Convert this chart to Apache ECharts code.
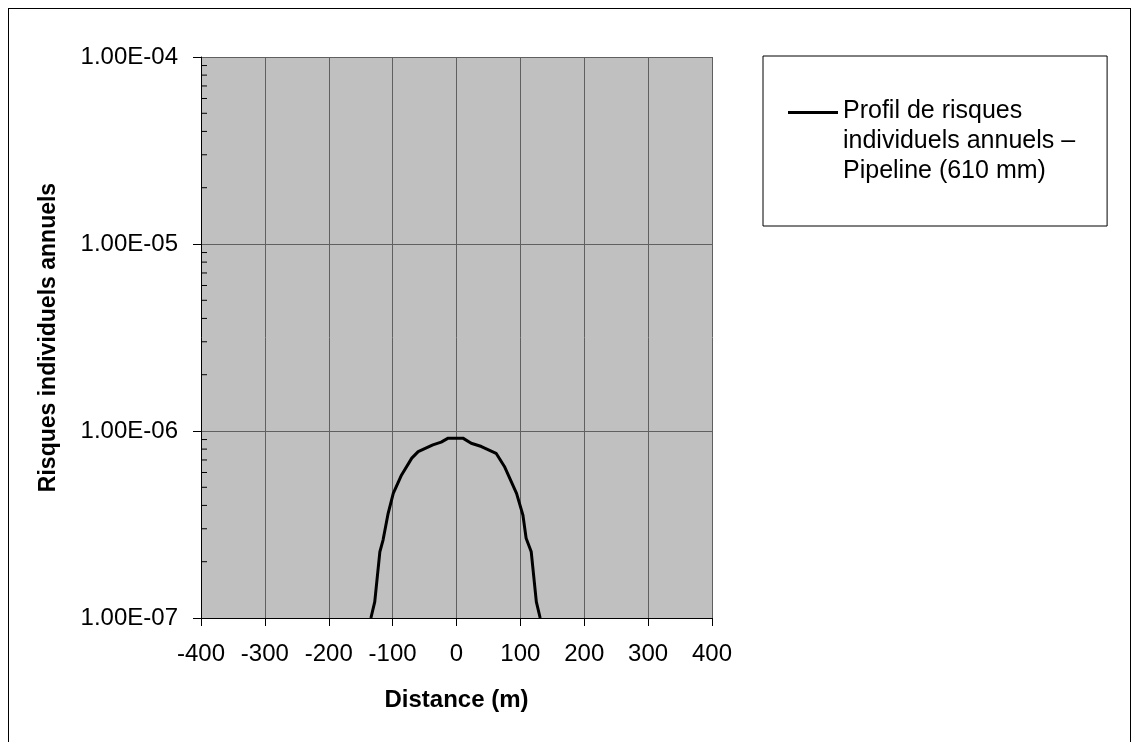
<!DOCTYPE html>
<html>
<head>
<meta charset="utf-8">
<script src="https://cdn.jsdelivr.net/npm/echarts@6/dist/echarts.min.js"></script>
<style>
  body { margin: 0; background: #fff; }
  #frame { position: absolute; left: 8px; top: 8px; width: 1121px; height: 780px; border: 1px solid #000; }
  #main { position: absolute; left: 0; top: 0; width: 1138px; height: 742px; }
</style>
</head>
<body>
<div id="frame"></div>
<div id="main"></div>
<script>
"use strict";
// values
var seriesName = 'Profil de risques\nindividuels annuels –\nPipeline (610 mm)';
var distance = [-134, -128, -120, -115, -107, -99, -86, -70, -60, -37, -24, -13, 0, 10, 23, 39, 62, 75, 94, 104, 109, 117, 125, 131];
var risk = [1.0e-7, 1.22e-7, 2.26e-7, 2.61e-7, 3.63e-7, 4.64e-7, 5.82e-7, 7.16e-7, 7.76e-7, 8.43e-7, 8.72e-7, 9.16e-7,
            9.16e-7, 9.16e-7, 8.6e-7, 8.26e-7, 7.6e-7, 6.46e-7, 4.64e-7, 3.55e-7, 2.67e-7, 2.26e-7, 1.22e-7, 1.0e-7];
var decades = [1e-7, 1e-6, 1e-5];
var minorSteps = [2, 3, 4, 5, 6, 7, 8, 9];

var font = "'Liberation Sans', Arial, sans-serif";

var lineData = distance.map(function (d, i) { return [d, risk[i]]; });

// log minor ticks at 2..9 of each decade
var minorTicks = [];
decades.forEach(function (dec) {
    minorSteps.forEach(function (m) { minorTicks.push([-400, m * dec]); });
});

function sci(v) {
    var e = Math.round(Math.log10(v));
    var m = v / Math.pow(10, e);
    var s = e < 0 ? '-' : '+';
    var a = String(Math.abs(e));
    if (a.length < 2) a = '0' + a;
    return m.toFixed(2) + 'E' + s + a;
}

var chart = echarts.init(document.getElementById('main'));
var option = {
    animation: false,
    backgroundColor: 'transparent',
    textStyle: { fontFamily: font },
    grid: {
        left: 201, top: 57, right: 426, bottom: 124,
        show: true, backgroundColor: '#c0c0c0', borderWidth: 0
    },
    legend: {
        left: 763, top: 56,
        orient: 'vertical',
        data: [seriesName],
        icon: 'path://M0,0h50v3h-50z M0,60h0.01v0.01h-0.01z',
        itemWidth: 50, itemHeight: 60, itemGap: 0,
        padding: [40, 32, 40, 25],
        borderColor: '#000', borderWidth: 1, backgroundColor: '#fff',
        textStyle: { fontSize: 25, color: '#000', lineHeight: 30, fontFamily: font },
        selectedMode: false
    },
    xAxis: {
        type: 'value', min: -400, max: 400, interval: 100,
        name: 'Distance (m)', nameLocation: 'middle', nameGap: 70,
        nameTextStyle: { fontSize: 24, fontWeight: 'bold', color: '#000', fontFamily: font },
        axisLine: { onZero: false, lineStyle: { color: '#000', width: 1 } },
        axisTick: { inside: false, length: 8, lineStyle: { color: '#000' } },
        axisLabel: { fontSize: 24, color: '#000', margin: 24, fontFamily: font },
        splitLine: { show: true, lineStyle: { color: '#606060', width: 1 } }
    },
    yAxis: {
        type: 'log', logBase: 10, min: 1e-7, max: 1e-4,
        name: 'Risques individuels annuels', nameLocation: 'middle', nameGap: 141,
        nameTextStyle: { fontSize: 23, fontWeight: 'bold', color: '#000', fontFamily: font },
        axisLine: { show: true, onZero: false, lineStyle: { color: '#000', width: 1 } },
        axisTick: { show: true, inside: false, length: 8, lineStyle: { color: '#000' } },
        axisLabel: { fontSize: 24, color: '#000', margin: 23, fontFamily: font, formatter: sci },
        splitLine: { show: true, lineStyle: { color: '#606060', width: 1 } }
    },
    series: [
        {
            name: seriesName,
            type: 'line',
            data: lineData,
            showSymbol: false,
            symbol: 'none',
            lineStyle: { color: '#000', width: 3 },
            itemStyle: { color: '#000' },
            z: 5
        },
        {
            name: 'minor',
            type: 'custom',
            silent: true,
            data: minorTicks,
            renderItem: function (params, api) {
                var p = api.coord([api.value(0), api.value(1)]);
                return {
                    type: 'line',
                    shape: { x1: p[0], y1: p[1], x2: p[0] + 6, y2: p[1] },
                    style: { stroke: '#000', lineWidth: 1 }
                };
            },
            z: 6
        }
    ]
};
chart.setOption(option);
</script>
</body>
</html>
